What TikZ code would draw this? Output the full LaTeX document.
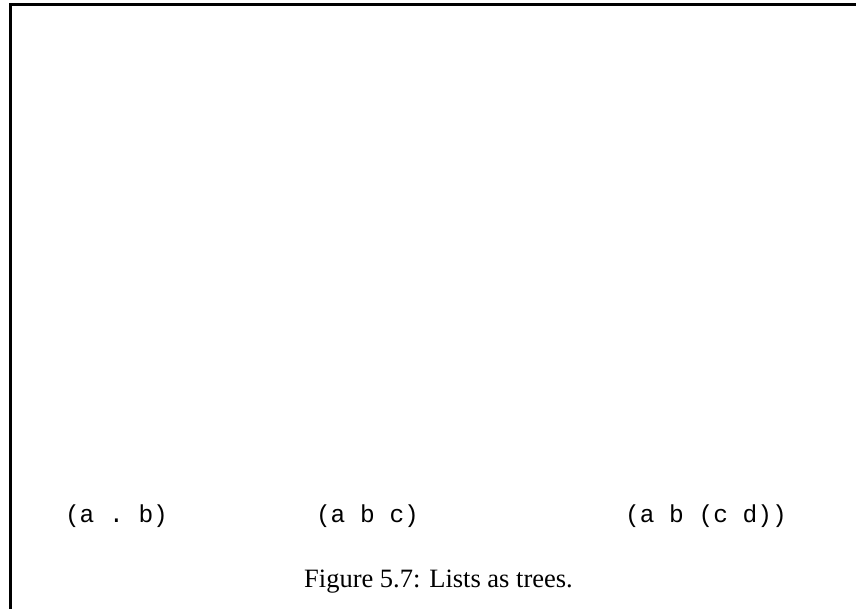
\documentclass[tikz,border=0pt]{standalone}
\usepackage{fontspec}
\setmainfont{Liberation Serif}
\setmonofont{Liberation Mono}
\begin{document}
\begin{tikzpicture}[x=1pt,y=-1pt,
  framestyle/.style={line width=2.6pt,line cap=butt},
  listlabel/.style={anchor=base,inner sep=0pt,font=\ttfamily\fontsize{24.5}{28}\selectfont},
  captionstyle/.style={anchor=base,inner sep=0pt,font=\fontsize{26.5}{30}\selectfont}]
\useasboundingbox (0,0) rectangle (856,609);
\coordinate (tl) at (10.5,4.3);
\coordinate (tr) at (856,4.3);
\coordinate (bl) at (10.5,609);
\draw[framestyle] (tr) -- (tl) -- (bl);
\node[listlabel] (l1) at (116.5,522) {(a . b)};
\node[listlabel] (l2) at (367.5,522) {(a b c)};
\node[listlabel] (l3) at (706,522) {(a b (c d))};
\node[captionstyle] (cap) at (438.5,587) {Figure 5.7: Lists as trees.};
\end{tikzpicture}
\end{document}
